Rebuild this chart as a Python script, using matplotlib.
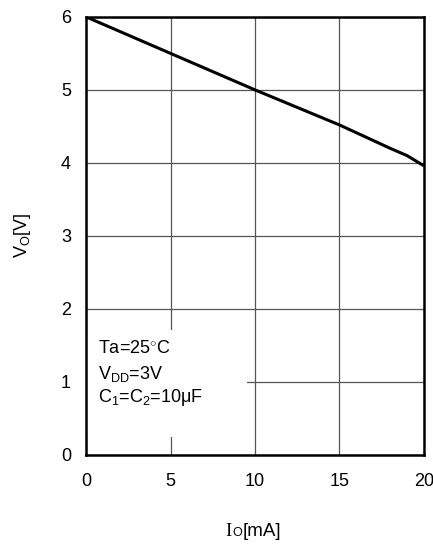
import matplotlib
matplotlib.use("Agg")
import matplotlib.pyplot as plt
from matplotlib.patches import Rectangle
from matplotlib.offsetbox import TextArea, HPacker, AnchoredOffsetbox

plt.rcParams["font.family"] = ["Liberation Sans", "DejaVu Sans"]
plt.rcParams["mathtext.fontset"] = "custom"
plt.rcParams["mathtext.rm"] = "Liberation Sans"
plt.rcParams["mathtext.it"] = "Liberation Sans:italic"
plt.rcParams["mathtext.bf"] = "Liberation Sans:bold"

# Output current vs output voltage
io_ma = [0, 5, 10, 15, 18, 19, 20]
vo_v = [6.0, 5.5, 5.0, 4.52, 4.2, 4.1, 3.96]

x_ticks = [0, 5, 10, 15, 20]
y_ticks = [0, 1, 2, 3, 4, 5, 6]

fig = plt.figure(figsize=(4.33, 5.46), dpi=100)
ax = fig.add_axes([0.199, 0.167, 0.780, 0.802])

ax.plot(io_ma, vo_v, color="black", lw=2.2, zorder=3, solid_capstyle="butt")

ax.set_xlim(0, 20)
ax.set_ylim(0, 6)
ax.set_xticks(x_ticks)
ax.set_yticks(y_ticks)
ax.tick_params(length=0, labelsize=13, pad=11)
ax.tick_params(axis="x", pad=13)
ax.grid(True, color="#555555", lw=0.9)
ax.set_axisbelow(True)
for s in ax.spines.values():
    s.set_linewidth(1.8)
    s.set_color("black")

# condition box (white background hides the grid behind it)
ax.add_patch(Rectangle((0, 0.041), 0.476, 0.244, transform=ax.transAxes,
                       facecolor="white", edgecolor="none", zorder=1))
tx = 0.035
ax.text(tx, 0.233, r"Ta=25$^{\circ}$C", transform=ax.transAxes,
        fontsize=13, va="baseline", zorder=4)
ax.text(tx, 0.174, r"V$_{\mathrm{DD}}$=3V", transform=ax.transAxes,
        fontsize=13, va="baseline", zorder=4)
ax.text(tx, 0.120, r"C$_{\mathrm{1}}$=C$_{\mathrm{2}}$=10μF",
        transform=ax.transAxes, fontsize=13, va="baseline", zorder=4)

ax.set_ylabel(r"V$_{\mathrm{O}}$[V]", fontsize=13, labelpad=20)

# x-axis label built from pieces: serif "I", small "O", then unit
parts = HPacker(children=[
    TextArea("I", textprops=dict(family="Liberation Serif", size=13.5)),
    TextArea("O", textprops=dict(size=9)),
    TextArea("[mA]", textprops=dict(size=13.5)),
], align="baseline", pad=0, sep=0.5)
box = AnchoredOffsetbox(loc="center", child=parts, frameon=False, pad=0,
                        bbox_to_anchor=(0.585, 1 - 531 / 546),
                        bbox_transform=fig.transFigure, borderpad=0)
fig.add_artist(box)

fig.savefig("out.png", dpi=100)
